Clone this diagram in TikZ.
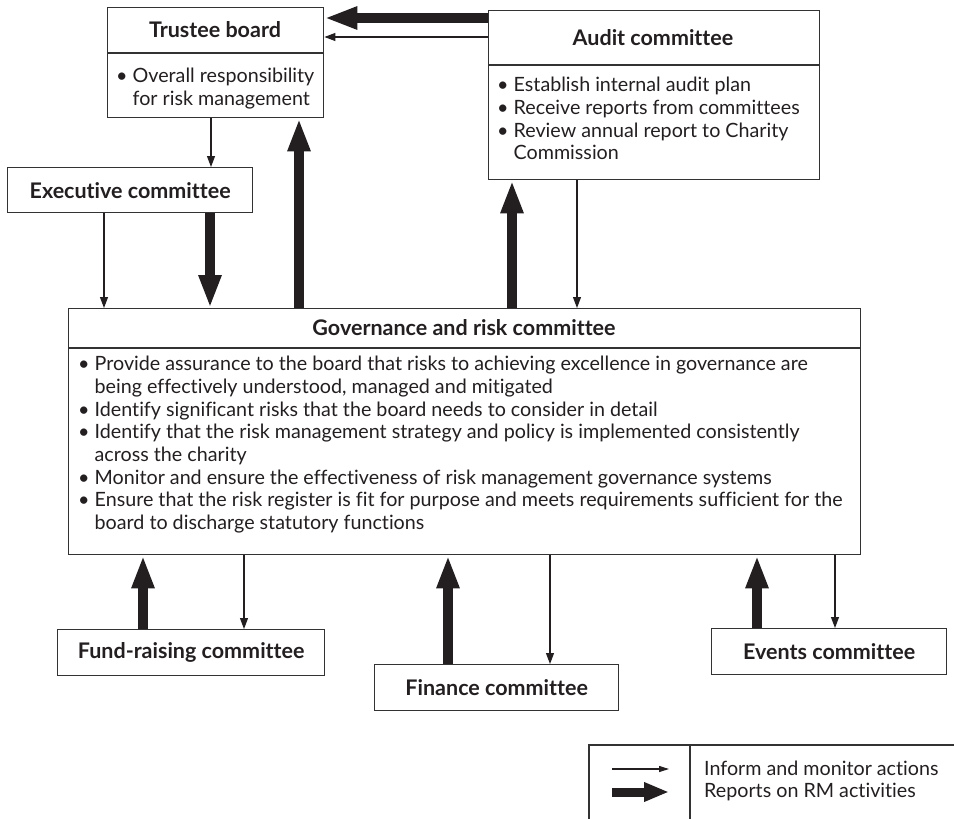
\documentclass[tikz,border=0pt]{standalone}
\usepackage{fontspec}
\setmainfont{Lato}[Ligatures=NoCommon]
\usetikzlibrary{arrows.meta}
\definecolor{ink}{HTML}{231F20}
\definecolor{rule}{HTML}{333333}
\begin{document}
\begin{tikzpicture}[x=1pt,y=-1pt,
  box/.style={draw=rule,line width=1.4pt,rectangle,inner sep=0pt,anchor=north west},
  head/.style={font=\fontsize{21.5}{24}\selectfont\bfseries,text=ink,inner sep=0pt},
  body/.style={font=\fontsize{19.7}{22.7}\selectfont,text=ink,align=left,anchor=north west,inner sep=0pt},
  inform/.style={draw=ink,line width=1.1pt,-{Triangle[length=11pt,width=8pt]}},
  report/.style={draw=ink,line width=10pt,-{Triangle[length=33pt,width=21pt]}},
  sep/.style={draw=rule,line width=1.4pt}]
\useasboundingbox (0,0) rectangle (954,819);
\newcommand{\bul}{\textbullet\ }
\newcommand{\ind}{\hphantom{\textbullet\ }}

% boxes
\node[box,minimum width=216pt,minimum height=110pt] (tb) at (107,7) {};
\node[box,minimum width=331pt,minimum height=169pt] (ac) at (488,10) {};
\node[box,minimum width=245pt,minimum height=45pt] (ex) at (7,167) {};
\node[box,minimum width=792pt,minimum height=246pt] (gv) at (68,308) {};
\node[box,minimum width=267pt,minimum height=46pt] (fr) at (57,629) {};
\node[box,minimum width=244pt,minimum height=46pt] (fi) at (374,664) {};
\node[box,minimum width=235pt,minimum height=46pt] (ev) at (711,628) {};

% header dividers
\draw[sep] (tb.west |- 0,53) -- (tb.east |- 0,53);
\draw[sep] (ac.west |- 0,65) -- (ac.east |- 0,65);
\draw[sep] (gv.west |- 0,348) -- (gv.east |- 0,348);

% titles
\node[head] (tbh) at (215,30) {Trustee board};
\node[head] (ach) at (653,38) {Audit committee};
\node[head] (exh) at (ex.center) {Executive committee};
\node[head] (gvh) at (464,328) {Governance and risk committee};
\node[head] (frh) at (fr.center) {Fund-raising committee};
\node[head] (fih) at (fi.center) {Finance committee};
\node[head] (evh) at (ev.center) {Events committee};

% bullet lists
\node[body] (tbb) at (116,68) {\bul Overall responsibility\\\ind for risk management};
\node[body] (acb) at (497,77) {\bul Establish internal audit plan\\\bul Receive reports from committees\\\bul Review annual report to Charity\\\ind Commission};
\node[body] (gvb) at (78,356) {\bul Provide assurance to the board that risks to achieving excellence in governance are\\
\ind being effectively understood, managed and mitigated\\
\bul Identify significant risks that the board needs to consider in detail\\
\bul Identify that the risk management strategy and policy is implemented consistently\\
\ind across the charity\\
\bul Monitor and ensure the effectiveness of risk management governance systems\\
\bul Ensure that the risk register is fit for purpose and meets requirements sufficient for the\\
\ind board to discharge statutory functions};

% connector positions
\coordinate (yA) at (0,18);
\coordinate (yB) at (0,37);
\coordinate (x1) at (211,0);
\coordinate (x2) at (299,0);
\coordinate (x3) at (104,0);
\coordinate (x4) at (210,0);
\coordinate (x5) at (512,0);
\coordinate (x6) at (577,0);
\coordinate (x7) at (143,0);
\coordinate (x8) at (244,0);
\coordinate (x9) at (448,0);
\coordinate (x10) at (550,0);
\coordinate (x11) at (757,0);
\coordinate (x12) at (835,0);

% connectors
\draw[report] (ac.west |- yA) -- (tb.east |- yA);
\draw[inform] (ac.west |- yB) -- (tb.east |- yB);
\draw[inform] (tb.south -| x1) -- (ex.north -| x1);
\draw[report] (gv.north -| x2) -- (tb.south -| x2);
\draw[inform] (ex.south -| x3) -- (gv.north -| x3);
\draw[report] (ex.south -| x4) -- (gv.north -| x4);
\draw[report] (gv.north -| x5) -- (ac.south -| x5);
\draw[inform] (ac.south -| x6) -- (gv.north -| x6);
\draw[report] (fr.north -| x7) -- (gv.south -| x7);
\draw[inform] (gv.south -| x8) -- (fr.north -| x8);
\draw[report] (fi.north -| x9) -- (gv.south -| x9);
\draw[inform] (gv.south -| x10) -- (fi.north -| x10);
\draw[report] (ev.north -| x11) -- (gv.south -| x11);
\draw[inform] (gv.south -| x12) -- (ev.north -| x12);

% key
\coordinate (kl) at (589,745);
\coordinate (kd) at (690,745);
\coordinate (kr) at (954,745);
\draw[sep,line width=1.1pt] (kl |- 0,819) -- (kl) -- (kr);
\draw[sep,line width=1.1pt] (kd) -- (kd |- 0,819);
\coordinate (ka1) at (612,769);
\coordinate (kb1) at (669,769);
\coordinate (ka2) at (612,792);
\coordinate (kb2) at (669,792);
\draw[inform,-{Triangle[length=10pt,width=6pt]}] (ka1) -- (kb1);
\draw[report,line width=9pt,-{Triangle[length=25pt,width=18pt]}] (ka2) -- (kb2);
\node[body,anchor=west] (kt1) at (704,768) {Inform and monitor actions};
\node[body,anchor=west] (kt2) at (704,792) {Reports on RM activities};
\end{tikzpicture}
\end{document}
